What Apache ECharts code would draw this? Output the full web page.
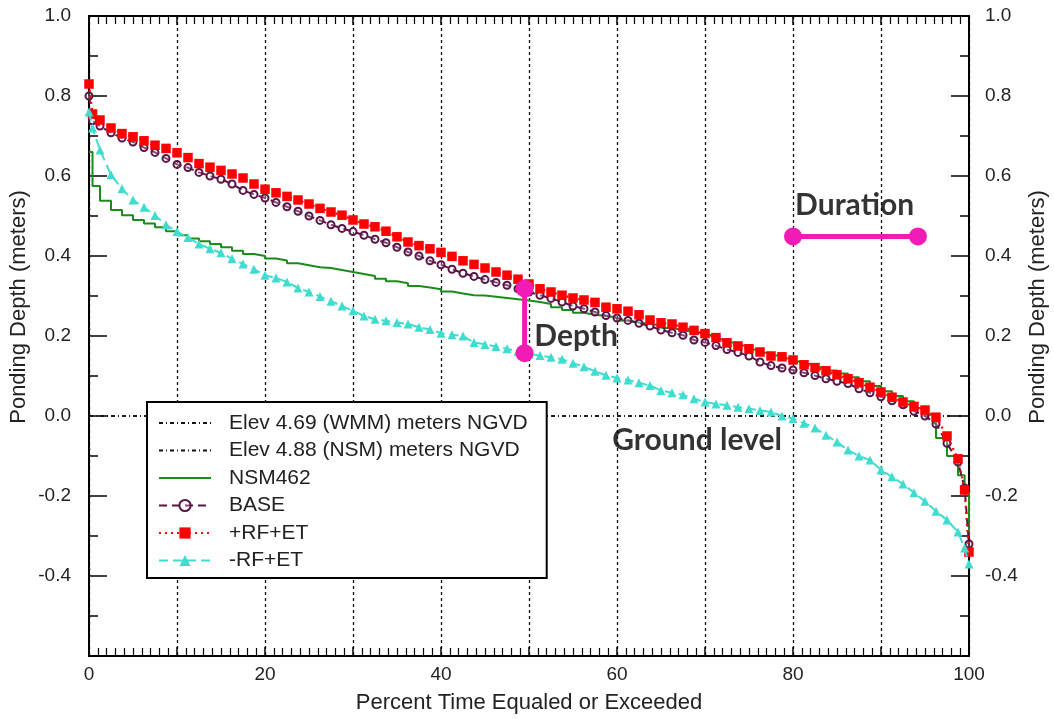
<!DOCTYPE html>
<html>
<head>
<meta charset="utf-8">
<script src="https://cdn.jsdelivr.net/npm/echarts@6/dist/echarts.min.js"></script>
<style>html,body{margin:0;padding:0;background:#fff;}#c{width:1054px;height:719px;}</style>
</head>
<body>
<div id="c"></div>
<script>
// Percent time equaled or exceeded (x values shared by all series)
const pct = [0,0.4,
1.25,2.5,3.75,5,6.25,7.5,8.75,10,11.25,12.5,13.75,15,16.25,17.5,18.75,20,
21.25,22.5,23.75,25,26.25,27.5,28.75,30,31.25,32.5,33.75,35,36.25,37.5,38.75,40,
41.25,42.5,43.75,45,46.25,47.5,48.75,50,51.25,52.5,53.75,55,56.25,57.5,58.75,60,
61.25,62.5,63.75,65,66.25,67.5,68.75,70,71.25,72.5,73.75,75,76.25,77.5,78.75,80,
81.25,82.5,83.75,85,86.25,87.5,88.75,90,91.25,92.5,93.75,95,96.25,97.5,98.75,
99.5,100];

const nsm462 = [0.66,0.575,
0.538,0.515,0.502,0.49,0.481,0.472,0.462,0.452,0.444,0.437,0.43,0.422,0.413,0.405,0.4,0.394,
0.389,0.382,0.377,0.372,0.37,0.365,0.36,0.355,0.35,0.343,0.337,0.332,0.325,0.321,0.317,0.311,
0.306,0.302,0.301,0.298,0.295,0.292,0.289,0.285,0.28,0.272,0.265,0.258,0.253,0.25,0.246,0.239,
0.234,0.23,0.227,0.22,0.215,0.21,0.205,0.2,0.192,0.184,0.176,0.166,0.158,0.151,0.144,0.136,
0.13,0.122,0.114,0.106,0.097,0.087,0.075,0.062,0.05,0.037,0.02,0.003,-0.055,-0.1,-0.148,
-0.19,-0.3];

const base = [0.80,0.738,
0.725,0.708,0.695,0.685,0.671,0.659,0.644,0.629,0.621,0.609,0.6,0.592,0.58,0.564,0.554,0.545,
0.534,0.523,0.512,0.5,0.489,0.478,0.469,0.461,0.452,0.442,0.433,0.422,0.41,0.4,0.388,0.378,
0.367,0.357,0.349,0.341,0.334,0.327,0.318,0.31,0.302,0.294,0.285,0.275,0.268,0.26,0.251,0.245,
0.239,0.232,0.225,0.215,0.208,0.202,0.19,0.184,0.176,0.166,0.159,0.15,0.135,0.126,0.12,0.115,
0.108,0.101,0.093,0.087,0.081,0.068,0.058,0.048,0.038,0.028,0.012,0.0,-0.02,-0.068,-0.115,
-0.18,-0.32];

const rfPlusEt = [0.83,0.755,
0.74,0.72,0.706,0.698,0.688,0.677,0.669,0.658,0.646,0.631,0.622,0.614,0.605,0.595,0.58,0.567,
0.558,0.549,0.54,0.53,0.519,0.51,0.502,0.49,0.48,0.473,0.462,0.448,0.435,0.426,0.418,0.409,
0.399,0.388,0.379,0.37,0.36,0.352,0.342,0.33,0.318,0.31,0.302,0.295,0.29,0.284,0.272,0.268,
0.262,0.253,0.24,0.233,0.23,0.222,0.214,0.206,0.196,0.183,0.175,0.168,0.16,0.15,0.148,0.14,
0.128,0.121,0.113,0.103,0.093,0.083,0.072,0.06,0.047,0.035,0.024,0.015,-0.003,-0.05,-0.107,
-0.185,-0.34];

const rfMinusEt = [0.76,0.72,
0.665,0.603,0.568,0.54,0.522,0.501,0.478,0.461,0.446,0.43,0.418,0.408,0.393,0.38,0.367,0.352,
0.345,0.335,0.32,0.31,0.299,0.287,0.275,0.263,0.25,0.242,0.238,0.234,0.23,0.222,0.216,0.207,
0.203,0.2,0.184,0.179,0.174,0.168,0.161,0.155,0.151,0.147,0.142,0.132,0.123,0.112,0.102,0.095,
0.09,0.083,0.076,0.064,0.058,0.053,0.043,0.035,0.03,0.027,0.022,0.018,0.014,0.01,0.0,-0.006,
-0.018,-0.03,-0.048,-0.065,-0.085,-0.1,-0.11,-0.135,-0.152,-0.17,-0.192,-0.213,-0.238,-0.26,-0.29,
-0.33,-0.37];

// Ground-level reference lines (depth 0 relative to each elevation)
const elevWMM = [[0,0],[100,0]];
const elevNSM = [[0,0],[100,0]];

// Annotations in data coordinates
const durationSeg = [[80,0.449],[94.2,0.449]];
const depthSeg = [[49.5,0.319],[49.5,0.157]];
const annTexts = [
  [87.0, 0.526, 'Duration', 'center'],
  [50.6, 0.2, 'Depth', 'left'],
  [69.1, -0.062, 'Ground level', 'center']
];

const names = ['Elev 4.69 (WMM) meters NGVD','Elev 4.88 (NSM) meters NGVD','NSM462','BASE','+RF+ET','-RF+ET'];

const zip = (xs, ys) => xs.map((x, i) => [x, ys[i]]);
const FONT = "'Liberation Sans', Arial, sans-serif";
const MAG = '#f01cb5';
const PURPLE = '#5a1547';

const chart = echarts.init(document.getElementById('c'), null, {renderer: 'canvas'});

const xAxisCommon = {
  type: 'value', min: 0, max: 100, interval: 10,
  axisLine: {show: true, onZero: false, lineStyle: {color: '#000', width: 2}},
  axisTick: {show: true, inside: true, length: 9, lineStyle: {color: '#000', width: 1.5}},
  minorTick: {show: true, splitNumber: 10, length: 8, lineStyle: {color: '#000', width: 1.2}},
};
const yAxisCommon = {
  type: 'value', min: -0.6, max: 1.0, interval: 0.2,
  axisLine: {show: true, onZero: false, lineStyle: {color: '#000', width: 2}},
  axisTick: {show: true, inside: true, length: 18, lineStyle: {color: '#000', width: 1.5}},
  minorTick: {show: true, splitNumber: 2, length: 9, lineStyle: {color: '#000', width: 1.5}},
  splitLine: {show: false},
  axisLabel: {
    fontFamily: FONT, fontSize: 19, color: '#222',
    formatter: v => (v < -0.5 ? '' : v.toFixed(1))
  }
};

const noSymbol = {itemStyle: {opacity: 0}};

const option = {
  animation: false,
  backgroundColor: '#fff',
  grid: {left: 89, right: 85, top: 16, bottom: 61, containLabel: false},
  xAxis: [
    Object.assign({}, xAxisCommon, {
      position: 'bottom',
      name: 'Percent Time Equaled or Exceeded', nameLocation: 'middle', nameGap: 36,
      nameTextStyle: {fontFamily: FONT, fontSize: 22, color: '#222'},
      splitLine: {show: true, lineStyle: {color: '#111', width: 1.3, type: [3, 3]}},
      axisLabel: {fontFamily: FONT, fontSize: 19, color: '#222', margin: 9,
        formatter: v => (Math.round(v) % 20 === 0 ? String(Math.round(v)) : '')}
    }),
    Object.assign({}, xAxisCommon, {
      position: 'top', splitLine: {show: false}, axisLabel: {show: false}
    })
  ],
  yAxis: [
    Object.assign({}, yAxisCommon, {position: 'left', axisLabel: Object.assign({}, yAxisCommon.axisLabel, {margin: 18})}),
    Object.assign({}, yAxisCommon, {position: 'right', axisLabel: Object.assign({}, yAxisCommon.axisLabel, {margin: 16})})
  ],
  legend: {
    data: [
      Object.assign({name: names[0]}, noSymbol),
      Object.assign({name: names[1]}, noSymbol),
      Object.assign({name: names[2]}, noSymbol),
      {name: names[3]}, {name: names[4]}, {name: names[5]}
    ],
    orient: 'vertical',
    left: 147, top: 402,
    itemWidth: 52, itemHeight: 14, itemGap: 6.5,
    padding: [10.5, 19, 7, 11],
    backgroundColor: '#fff', borderColor: '#000', borderWidth: 2, borderRadius: 0,
    textStyle: {fontFamily: FONT, fontSize: 21, color: '#222', lineHeight: 21, padding: [0, 0, 0, 13]},
    selectedMode: false
  },
  graphic: [
    {type: 'text', x: 19, y: 307, rotation: Math.PI / 2,
      style: {text: 'Ponding Depth (meters)', font: "22px 'Liberation Sans', Arial, sans-serif", fill: '#222', textAlign: 'center', textVerticalAlign: 'middle'}},
    {type: 'text', x: 1038, y: 307, rotation: Math.PI / 2,
      style: {text: 'Ponding Depth (meters)', font: "22px 'Liberation Sans', Arial, sans-serif", fill: '#222', textAlign: 'center', textVerticalAlign: 'middle'}}
  ],
  series: [
    {name: names[0], type: 'line', data: elevWMM, symbol: 'none', z: 1,
      lineStyle: {color: '#111', width: 1.3, type: [4, 3, 1, 3]}, itemStyle: {color: '#111'}},
    {name: names[1], type: 'line', data: elevNSM, symbol: 'none', z: 1,
      lineStyle: {color: '#111', width: 1.3, type: [4, 3, 1, 3]}, itemStyle: {color: '#111'}},
    {name: names[2], type: 'line', data: zip(pct, nsm462), symbol: 'none', step: 'end', z: 2,
      lineStyle: {color: '#1a8c1a', width: 2}, itemStyle: {color: '#1a8c1a'}},
    {name: names[3], type: 'line', data: zip(pct, base), symbol: 'circle', symbolSize: 7, z: 3,
      lineStyle: {color: PURPLE, width: 2, type: [8, 5]},
      itemStyle: {color: 'rgba(255,255,255,0.25)', borderColor: PURPLE, borderWidth: 2}},
    {name: names[4], type: 'line', data: zip(pct, rfPlusEt), symbol: 'rect', symbolSize: 9.5, z: 4,
      lineStyle: {color: '#ff0000', width: 2.2, type: [2, 4]}, itemStyle: {color: '#ff0000'}},
    {name: names[5], type: 'line', data: zip(pct, rfMinusEt), symbol: 'triangle', symbolSize: 9, z: 5,
      lineStyle: {color: '#40dccf', width: 2, type: [9, 5]}, itemStyle: {color: '#40dccf'}},
    {name: 'durationAnn', type: 'line', data: durationSeg, symbol: 'circle', symbolSize: 18, z: 10,
      lineStyle: {color: MAG, width: 5}, itemStyle: {color: MAG}},
    {name: 'depthAnn', type: 'line', data: depthSeg, symbol: 'circle', symbolSize: 18, z: 10,
      lineStyle: {color: MAG, width: 5}, itemStyle: {color: MAG}},
    {name: 'annText', type: 'scatter', data: annTexts.map(a => ({value: [a[0], a[1]], label: {align: a[3]}, txt: a[2]})),
      symbolSize: 0, z: 11, silent: true,
      label: {show: true, position: 'inside', color: '#000', fontFamily: "Lato, 'Open Sans', sans-serif", fontWeight: 'bold', fontSize: 30,
        formatter: p => p.data.txt}}
  ]
};
chart.setOption(option);
</script>
</body>
</html>
